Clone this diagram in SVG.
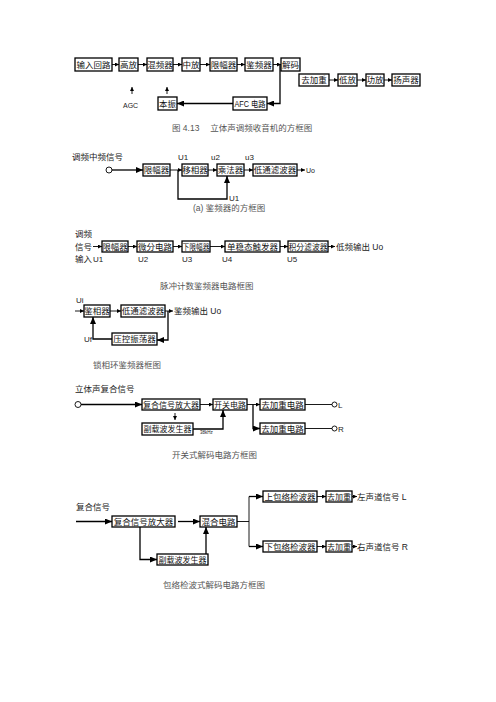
<svg xmlns="http://www.w3.org/2000/svg" width="496" height="702" viewBox="0 0 496 702">
<defs>
<marker id="s" markerUnits="userSpaceOnUse" markerWidth="4" markerHeight="4" refX="4" refY="2" orient="auto"><path d="M0,0 L4,2 L0,4 z" fill="#000"/></marker>
<marker id="m" markerUnits="userSpaceOnUse" markerWidth="7" markerHeight="6" refX="7" refY="3" orient="auto"><path d="M0,0 L7,3 L0,6 z" fill="#000"/></marker>
</defs>
<style>
text{font-family:"Liberation Sans","Noto Sans CJK SC",sans-serif;font-size:8.5px;fill:#222}
.b rect{fill:#fff;stroke:#000;stroke-width:1.3}
.b text{text-anchor:middle;fill:#111}
.cap{fill:#555}
.c line,.c path{fill:none;stroke:#000;stroke-width:0.9}
.sa{marker-end:url(#s)}
.ma{marker-end:url(#m);stroke-width:1.3 !important}
.ci{fill:#fff;stroke:#000;stroke-width:0.9}
.sm{font-size:7px}
.lt{font-size:8px}
</style>
<rect width="496" height="702" fill="#fff"/>

<!-- Section 1 -->
<g id="n_input" class="b"><rect x="75" y="58" width="37" height="13"/><text x="93.5" y="67.5">输入回路</text></g>
<g id="n_gaofang" class="b"><rect x="119" y="58" width="19" height="13"/><text x="128.5" y="67.5">高放</text></g>
<g id="n_hunpin" class="b"><rect x="147" y="58" width="26" height="13"/><text x="160" y="67.5">混频器</text></g>
<g id="n_zhongfang" class="b"><rect x="182" y="58" width="18" height="13"/><text x="191" y="67.5">中放</text></g>
<g id="n_xianfu1" class="b"><rect x="210" y="58" width="27" height="13"/><text x="223.5" y="67.5">限幅器</text></g>
<g id="n_jianpin1" class="b"><rect x="245" y="58" width="28" height="13"/><text x="259" y="67.5">鉴频器</text></g>
<g id="n_jiema" class="b"><rect x="281" y="58" width="19" height="13"/><text x="290.5" y="67.5">解码</text></g>
<g id="n_qujiazhong1" class="b"><rect x="299" y="74" width="30" height="12"/><text x="314" y="83">去加重</text></g>
<g id="n_difang" class="b"><rect x="338" y="74" width="19" height="12"/><text x="347.5" y="83">低放</text></g>
<g id="n_gongfang" class="b"><rect x="366" y="74" width="18" height="12"/><text x="375" y="83">功放</text></g>
<g id="n_yangsheng" class="b"><rect x="392" y="74" width="28" height="12"/><text x="406" y="83">扬声器</text></g>
<g id="n_benzhen" class="b"><rect x="158" y="97" width="19" height="13"/><text x="167.5" y="106.5">本振</text></g>
<g id="n_afc" class="b"><rect x="233" y="97" width="34" height="13"/><text x="250" y="106.5" textLength="31" lengthAdjust="spacingAndGlyphs">AFC 电路</text></g>
<g id="l_agc"><text x="123" y="108" class="sm">AGC</text></g>
<g id="cap1"><text x="172" y="131" class="cap">图 4.13　 立体声调频收音机的方框图</text></g>

<!-- Section 2 -->
<g id="l_s2"><text x="72" y="160">调频中频信号</text><text x="178" y="160" class="lt">U1</text><text x="211" y="160" class="lt">u2</text><text x="245" y="160" class="lt">u3</text><text x="306" y="173" class="sm">Uo</text><text x="229" y="201" class="lt">U1</text></g>
<g id="n_xianfu2" class="b"><rect x="143" y="164" width="27" height="12"/><text x="156.5" y="173">限幅器</text></g>
<g id="n_yixiang" class="b"><rect x="182" y="164" width="26" height="12"/><text x="195" y="173">移相器</text></g>
<g id="n_chengfa" class="b"><rect x="217" y="164" width="27" height="12"/><text x="230.5" y="173">乘法器</text></g>
<g id="n_ditong1" class="b"><rect x="253" y="164" width="44" height="12"/><text x="275" y="173">低通滤波器</text></g>
<g id="cap2"><text x="193" y="211" class="cap">(a)  鉴频器的方框图</text></g>

<!-- Section 3 -->
<g id="l_s3"><text x="75" y="237">调频</text><text x="75" y="249.5">信号</text><text x="75" y="262">输入</text><text x="93" y="262" class="lt">U1</text><text x="138" y="262" class="lt">U2</text><text x="182" y="262" class="lt">U3</text><text x="222" y="262" class="lt">U4</text><text x="287" y="262" class="lt">U5</text><text x="336" y="249.5">低频输出 Uo</text></g>
<g id="n_xianfu3" class="b"><rect x="102" y="241" width="26" height="11"/><text x="115" y="249.5">限幅器</text></g>
<g id="n_weifen" class="b"><rect x="137" y="241" width="36" height="11"/><text x="155" y="249.5">微分电路</text></g>
<g id="n_xiaxianfu" class="b"><rect x="182" y="241" width="28" height="11"/><text x="196" y="249.5" textLength="27" lengthAdjust="spacingAndGlyphs">下限幅器</text></g>
<g id="n_danwen" class="b"><rect x="225" y="241" width="55" height="11"/><text x="252.5" y="249.5">单稳态触发器</text></g>
<g id="n_jifen" class="b"><rect x="288" y="241" width="40" height="11"/><text x="308" y="249.5" textLength="39" lengthAdjust="spacingAndGlyphs">积分滤波器</text></g>
<g id="cap3"><text x="160" y="289" class="cap">脉冲计数鉴频器电路框图</text></g>

<!-- Section 4 -->
<g id="l_s4"><text x="76" y="303" class="lt">Ui</text><text x="174" y="314">鉴频输出 Uo</text><text x="84" y="342" class="lt">Uf</text></g>
<g id="n_jianxiang" class="b"><rect x="84" y="305" width="26" height="12"/><text x="97" y="314">鉴相器</text></g>
<g id="n_ditong2" class="b"><rect x="121" y="305" width="44" height="12"/><text x="143" y="314">低通滤波器</text></g>
<g id="n_yakong" class="b"><rect x="112" y="333" width="45" height="12"/><text x="134.5" y="342">压控振荡器</text></g>
<g id="cap4"><text x="93" y="368" class="cap">锁相环鉴频器框图</text></g>

<!-- Section 5 -->
<g id="l_s5"><text x="75" y="392">立体声复合信号</text><text x="338" y="407.5" class="lt">L</text><text x="338" y="431.5" class="lt">R</text><text x="200" y="434" style="font-size:4.5px">38kHz</text></g>
<g id="n_fuhe1" class="b"><rect x="142" y="399" width="58" height="11"/><text x="171" y="408" style="font-size:8px">复合信号放大器</text></g>
<g id="n_kaiguan" class="b"><rect x="213" y="399" width="34" height="11"/><text x="230" y="408" style="font-size:8px">开关电路</text></g>
<g id="n_qujiaL" class="b"><rect x="260" y="399" width="45" height="11"/><text x="282.5" y="408">去加重电路</text></g>
<g id="n_qujiaR" class="b"><rect x="260" y="423" width="45" height="11"/><text x="282.5" y="432">去加重电路</text></g>
<g id="n_fuzai1" class="b"><rect x="142" y="423" width="51" height="12"/><text x="167.5" y="432" style="font-size:8px">副载波发生器</text></g>
<g id="cap5"><text x="172" y="458" class="cap">开关式解码电路方框图</text></g>

<!-- Section 6 -->
<g id="l_s6"><text x="76" y="510">复合信号</text><text x="357" y="500">左声道信号 L</text><text x="357" y="550">右声道信号 R</text></g>
<g id="n_fuhe2" class="b"><rect x="112" y="516" width="63" height="11"/><text x="143.5" y="525">复合信号放大器</text></g>
<g id="n_hunhe" class="b"><rect x="200" y="516" width="37" height="11"/><text x="218.5" y="525">混合电路</text></g>
<g id="n_fuzai2" class="b"><rect x="157" y="554" width="51" height="11"/><text x="182.5" y="563" style="font-size:8px">副载波发生器</text></g>
<g id="n_shangbao" class="b"><rect x="263" y="491" width="54" height="11"/><text x="290" y="500">上包络检波器</text></g>
<g id="n_qujia6a" class="b"><rect x="326" y="491" width="26" height="11"/><text x="339" y="500" style="font-size:8px">去加重</text></g>
<g id="n_xiabao" class="b"><rect x="263" y="541" width="54" height="11"/><text x="290" y="550">下包络检波器</text></g>
<g id="n_qujia6b" class="b"><rect x="326" y="541" width="26" height="11"/><text x="339" y="550" style="font-size:8px">去加重</text></g>
<g id="cap6"><text x="163" y="588" class="cap">包络检波式解码电路方框图</text></g>

<g id="connectors" class="c">
<!-- s1 -->
<line x1="112" y1="64.5" x2="119" y2="64.5" class="sa"/>
<line x1="138" y1="64.5" x2="147" y2="64.5" class="sa"/>
<line x1="173" y1="64.5" x2="182" y2="64.5" class="sa"/>
<line x1="200" y1="64.5" x2="210" y2="64.5" class="sa"/>
<line x1="237" y1="64.5" x2="245" y2="64.5" class="sa"/>
<line x1="273" y1="64.5" x2="281" y2="64.5" class="sa"/>
<line x1="329" y1="80" x2="338" y2="80" class="sa"/>
<line x1="357" y1="80" x2="366" y2="80" class="sa"/>
<line x1="384" y1="80" x2="392" y2="80" class="sa"/>
<path d="M280,64.5 V103.5 H267" class="ma"/>
<line x1="233" y1="103.5" x2="177" y2="103.5" class="ma"/>
<line x1="132" y1="94" x2="132" y2="87" class="sa"/>
<line x1="167" y1="94" x2="167" y2="87" class="sa"/>
<!-- s2 -->
<line x1="112" y1="170" x2="143" y2="170" class="ma"/>
<line x1="170" y1="170" x2="182" y2="170" class="sa"/>
<line x1="208" y1="170" x2="217" y2="170" class="sa"/>
<line x1="244" y1="170" x2="253" y2="170" class="sa"/>
<line x1="297" y1="170" x2="305" y2="170" class="sa"/>
<path d="M178,170 V199 H227 V176" class="ma"/>
<!-- s3 -->
<line x1="93" y1="246.5" x2="102" y2="246.5" class="sa"/>
<line x1="128" y1="246.5" x2="137" y2="246.5" class="sa"/>
<line x1="173" y1="246.5" x2="182" y2="246.5" class="sa"/>
<line x1="210" y1="246.5" x2="225" y2="246.5" class="sa"/>
<line x1="280" y1="246.5" x2="288" y2="246.5" class="sa"/>
<line x1="328" y1="246.5" x2="335" y2="246.5" class="sa"/>
<!-- s4 -->
<line x1="75" y1="311" x2="84" y2="311" class="sa"/>
<line x1="110" y1="311" x2="121" y2="311" class="sa"/>
<line x1="165" y1="311" x2="173" y2="311" class="sa"/>
<path d="M168,311 V340 H157" class="ma"/>
<path d="M112,339 H93 V317" class="ma"/>
<!-- s5 -->
<line x1="81" y1="404.5" x2="142" y2="404.5" class="ma"/>
<line x1="200" y1="404.5" x2="213" y2="404.5" class="sa"/>
<line x1="247" y1="404.5" x2="260" y2="404.5" class="sa"/>
<path d="M253,404.5 V428.5 H260" class="ma"/>
<line x1="305" y1="404.5" x2="332" y2="404.5"/>
<line x1="305" y1="428.5" x2="332" y2="428.5"/>
<line x1="175" y1="413" x2="175" y2="420" class="sa"/>
<path d="M193,429 H223 V410" class="ma"/>
<!-- s6 -->
<line x1="76" y1="521.5" x2="112" y2="521.5" class="ma"/>
<line x1="178" y1="521.5" x2="200" y2="521.5" class="ma"/>
<path d="M237,521.5 H249"/>
<path d="M249,496.5 V546.5"/>
<line x1="249" y1="496.5" x2="263" y2="496.5" class="ma"/>
<line x1="249" y1="546.5" x2="263" y2="546.5" class="ma"/>
<line x1="317" y1="496.5" x2="326" y2="496.5" class="sa"/>
<line x1="352" y1="496.5" x2="357" y2="496.5" class="sa"/>
<line x1="317" y1="546.5" x2="326" y2="546.5" class="sa"/>
<line x1="352" y1="546.5" x2="357" y2="546.5" class="sa"/>
<path d="M140,527 V559.5 H157" class="ma"/>
<path d="M206,554 V527" class="ma"/>
</g>
<circle cx="109" cy="170" r="3" class="ci"/>
<circle cx="78" cy="404.5" r="3" class="ci"/>
<circle cx="334.5" cy="404.5" r="2.5" class="ci"/>
<circle cx="334.5" cy="428.5" r="2.5" class="ci"/>
</svg>
